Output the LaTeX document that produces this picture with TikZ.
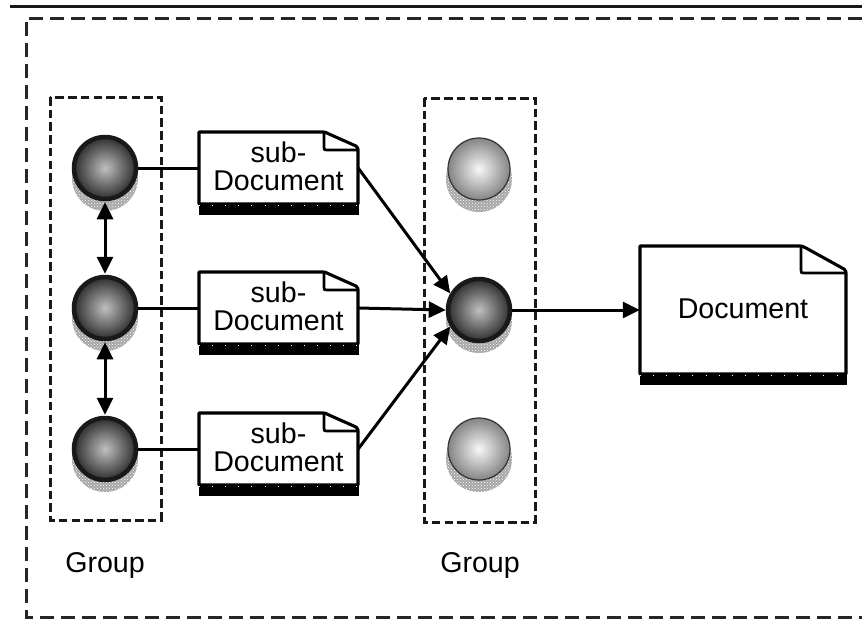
\documentclass[tikz,border=0pt]{standalone}
\usepackage{fontspec}
\setmainfont{Liberation Sans}
\usetikzlibrary{patterns,arrows.meta}
\tikzset{
  x=1pt,y=-1pt,
  frame/.style={draw=black!85,line width=3pt,dash pattern=on 14pt off 7pt},
  groupbox/.style={draw=black!90,line width=3pt,dash pattern=on 8.5pt off 4.2pt},
  darkball/.style={circle,draw=black!90,line width=4.5pt,minimum size=62pt,inner sep=0pt,inner color=black!25,outer color=black!82},
  lightball/.style={circle,draw=black!80,line width=1.2pt,minimum size=62pt,inner sep=0pt,inner color=black!3,outer color=black!48},
  docbody/.style={rectangle,inner sep=0pt},
  doctext/.style={inner sep=0pt,align=center,font=\fontsize{28.6pt}{28.4pt}\selectfont},
  docline/.style={draw=black,line width=3.1pt,fill=white,line join=round},
  foldline/.style={draw=black,line width=2.7pt,line join=round,fill=none},
  barfill/.style={fill=black,draw=black,line width=1pt},
  barticks/.style={draw=white,line width=.7pt,dash pattern=on .8pt off 12.3pt},
  conn/.style={draw=black,line width=3pt},
  arr/.style={conn,-{Triangle[length=17pt,width=16pt]}},
  biarr/.style={conn,{Triangle[length=17pt,width=16pt]}-{Triangle[length=17pt,width=16pt]}},
  lbl/.style={font=\fontsize{28.6pt}{30pt}\selectfont,inner sep=0pt},
}
% #1 name, #2 left, #3 top, #4 right, #5 body bottom, #6 fold x, #7 fold y, #8 text, #9 text lift
\newcommand{\docsheet}[9]{%
  \draw[docline] (#2,#5) -- (#2,#3) -- ({#4-#6-2},#3) .. controls ({#4-#6+2},#3) .. ({#4-#6+6},{#3+2}) -- ({#4-2},{#3+#7-4}) .. controls (#4,{#3+#7-2}) .. (#4,{#3+#7+2}) -- (#4,#5) -- cycle;
  \draw[foldline] ({#4-#6+1},{#3+1}) -- ({#4-#6+1},{#3+#7-3}) .. controls ({#4-#6+1},{#3+#7}) .. ({#4-#6+4},{#3+#7}) -- ({#4-1},{#3+#7});
  \fill[barfill] (#2,{#5-1}) rectangle (#4,{#5+10});
  \draw[barticks] (#2,{#5+1}) -- (#4,{#5+1});
  \node[docbody,minimum width=#4pt-#2pt,minimum height=#5pt-#3pt] (#1) at ({(#2+#4)/2},{(#3+#5)/2}) {};
  \node[doctext,yshift=#9] (#1t) at (#1.center) {#8};
}
% #1 x, #2 y : stippled under-shadow of a ball
\newcommand{\ballshadow}[2]{%
  \fill[black!35] (#1,{#2+10}) circle[radius=33];
  \fill[pattern=crosshatch dots,pattern color=white] (#1,{#2+10}) circle[radius=33];
}
\begin{document}
\begin{tikzpicture}
\useasboundingbox (0,0) rectangle (862,622);
\fill[white] (0,0) rectangle (862,622);
% rule and frame
\coordinate (ruleA) at (10,6);
\coordinate (ruleB) at (862,6);
\draw[black!90,line width=3pt] (ruleA) -- (ruleB);
\coordinate (frameA) at (862,18);
\coordinate (frameB) at (26,18);
\coordinate (frameC) at (26,617);
\coordinate (frameD) at (862,617);
\draw[frame] (frameA) -- (frameB) -- (frameC) -- (frameD);
% groups
\draw[groupbox] (50,97) rectangle (161,520);
\draw[groupbox] (424,98) rectangle (535,522);
% balls
\ballshadow{105}{168}\ballshadow{105}{308}\ballshadow{105}{449}
\ballshadow{479}{169}\ballshadow{479}{310}\ballshadow{479}{449}
\node[darkball] (a1) at (105,168) {};
\node[darkball] (a2) at (105,308) {};
\node[darkball] (a3) at (105,449) {};
\node[lightball] (b1) at (479,169) {};
\node[darkball] (b2) at (479,310) {};
\node[lightball] (b3) at (479,449) {};
% documents
\docsheet{d1}{199}{132}{358}{204}{35}{18}{sub-\\Document}{2pt}
\docsheet{d2}{199}{272}{358}{344}{35}{18}{sub-\\Document}{2pt}
\docsheet{d3}{199}{413}{358}{485}{35}{18}{sub-\\Document}{2pt}
\docsheet{D}{640}{246}{846}{374}{46}{27}{Document}{1pt}
% labels
\node[lbl] (g1) at (105,565) {Group};
\node[lbl] (g2) at (480,565) {Group};
% connectors
\draw[conn] (a1) -- (d1.west);
\draw[conn] (a2) -- (d2.west);
\draw[conn] (a3) -- (d3.west);
\draw[biarr] ([yshift=-1pt]a1.south) -- ([yshift=1pt]a2.north);
\draw[biarr] ([yshift=-1pt]a2.south) -- ([yshift=1pt]a3.north);
\draw[arr] (d1.east) -- (b2.150);
\draw[arr] (d2.east) -- (b2.west);
\draw[arr] (d3.east) -- (b2.210);
\draw[arr] (b2.east) -- (D.west);
\end{tikzpicture}
\end{document}
